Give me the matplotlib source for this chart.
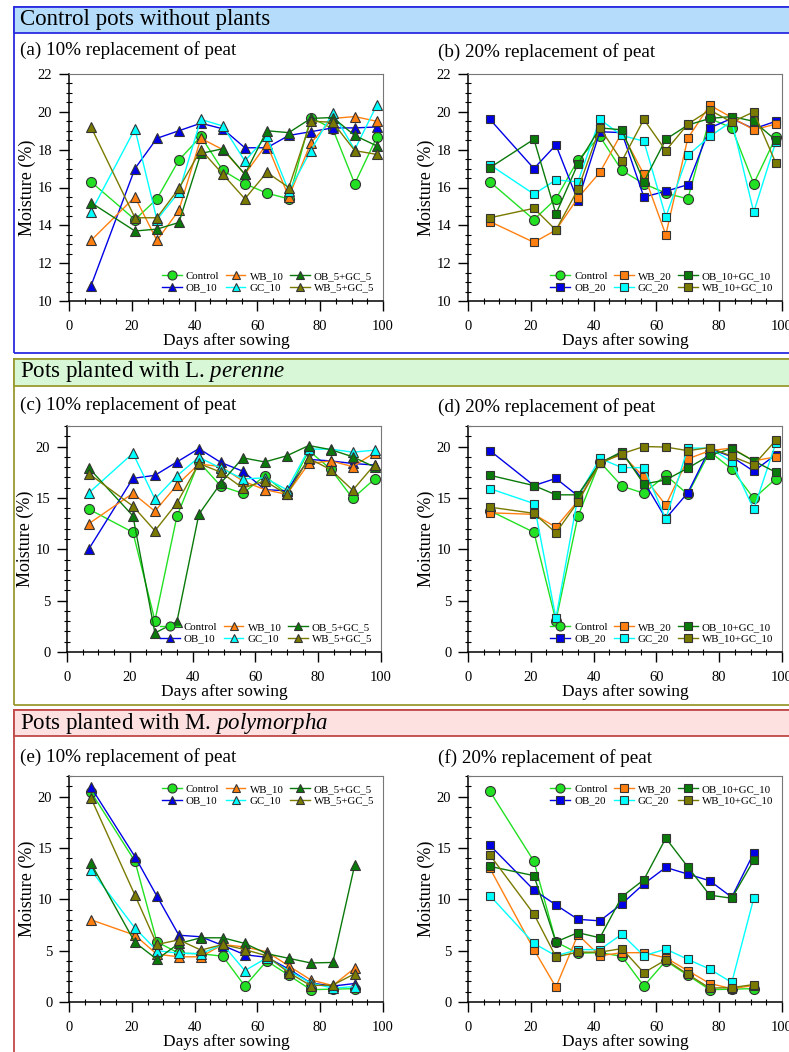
import matplotlib
matplotlib.use("Agg")
import matplotlib.pyplot as plt
from matplotlib.patches import Rectangle
from matplotlib.ticker import MultipleLocator

plt.rcParams["font.family"] = ["Liberation Serif", "DejaVu Serif"]
plt.rcParams["mathtext.fontset"] = "custom"
plt.rcParams["mathtext.rm"] = "Liberation Serif"
plt.rcParams["mathtext.it"] = "Liberation Serif:italic"

# sampling days
days = [7, 21, 28, 35, 42, 49, 56, 63, 70, 77, 84, 91, 98]
days_mp = [7, 21, 28, 35, 42, 49, 56, 63, 70, 77, 84, 91]

# (a) control pots, 10 %
a_control = [16.3, 14.3, 15.4, 17.45, 18.7, 16.9, 16.2, 15.7, 15.4, 19.7, 19.1, 16.2, 18.65]
a_ob = [10.8, 17.0, 18.6, 19.0, 19.4, 19.1, 18.1, 18.1, 18.75, 18.95, 19.15, 19.15, 19.2]
a_wb = [13.2, 15.5, 13.2, 14.8, 18.6, 18.0, 16.7, 18.3, 15.5, 18.35, 19.65, 19.75, 19.5]
a_gc = [14.7, 19.1, 14.3, 15.75, 19.6, 19.25, 17.4, 18.7, 15.8, 17.95, 19.95, 18.0, 20.35]
a_obgc = [15.2, 13.7, 13.8, 14.15, 17.8, 18.05, 16.7, 19.0, 18.9, 19.65, 19.7, 18.75, 18.2]
a_wbgc = [19.2, 14.4, 14.4, 15.95, 18.0, 16.7, 15.4, 16.8, 16.0, 19.5, 19.45, 17.95, 17.75]

# (b) control pots, 20 %
b_control = [16.3, 14.3, 15.4, 17.45, 18.7, 16.9, 16.2, 15.7, 15.4, 19.65, 19.15, 16.2, 18.65]
b_ob = [19.6, 17.0, 18.25, 15.3, 18.95, 18.9, 15.5, 15.8, 16.15, 19.15, 19.65, 19.1, 19.5]
b_wb = [14.2, 13.1, 13.75, 15.45, 16.8, 18.9, 16.7, 13.5, 18.6, 20.35, 19.7, 19.05, 19.35]
b_gc = [17.2, 15.65, 16.4, 16.3, 19.6, 18.75, 18.45, 14.45, 17.7, 18.7, 19.5, 14.7, 18.4]
b_obgc = [17.05, 18.55, 14.6, 17.25, 19.15, 19.05, 16.3, 18.55, 19.3, 19.65, 19.75, 19.5, 18.5]
b_wbgc = [14.4, 14.9, 13.75, 15.9, 19.15, 17.4, 19.6, 17.95, 19.35, 20.1, 19.45, 20.0, 17.3]

# (c) L. perenne, 10 %
c_control = [13.9, 11.65, 3.05, 13.2, 18.5, 16.15, 15.45, 17.15, 15.4, 19.6, 17.8, 14.95, 16.85]
c_ob = [10.05, 16.9, 17.2, 18.5, 19.8, 18.45, 17.6, 15.8, 15.7, 18.75, 18.6, 18.35, 18.2]
c_wb = [12.5, 15.45, 13.7, 16.25, 18.3, 18.05, 16.65, 15.8, 15.35, 18.35, 18.6, 18.05, 19.4]
c_gc = [15.5, 19.35, 14.9, 17.15, 18.95, 17.9, 16.85, 16.95, 15.8, 19.75, 19.75, 19.45, 19.65]
c_obgc = [17.9, 13.25, 1.85, 2.95, 13.4, 16.45, 18.9, 18.5, 19.1, 20.1, 19.7, 19.0, 18.0]
c_wbgc = [17.35, 14.2, 11.8, 14.5, 18.35, 17.5, 15.95, 16.65, 15.35, 18.85, 17.75, 15.75, 18.25]

# (d) L. perenne, 20 %
d_control = [13.75, 11.65, 3.05, 13.2, 18.5, 16.15, 15.45, 17.2, 15.35, 19.5, 17.8, 14.95, 16.85]
d_ob = [19.6, 16.2, 16.9, 15.2, 18.4, 19.4, 16.6, 13.0, 15.5, 19.8, 19.0, 17.6, 19.2]
d_wb = [13.55, 13.4, 12.15, 14.7, 18.5, 19.2, 17.05, 14.3, 18.8, 19.6, 19.85, 18.6, 19.0]
d_gc = [15.9, 14.45, 3.3, 15.1, 18.85, 17.95, 17.95, 12.95, 19.85, 19.85, 18.5, 13.9, 20.3]
d_obgc = [17.2, 16.2, 15.3, 15.3, 18.4, 19.5, 16.35, 16.75, 17.9, 19.15, 19.8, 18.6, 17.5]
d_wbgc = [14.1, 13.5, 11.6, 14.6, 18.35, 19.3, 20.0, 19.95, 19.6, 19.9, 19.05, 18.2, 20.6]

# (e) M. polymorpha, 10 %
e_control = [20.45, 13.7, 5.85, 4.75, 4.7, 4.45, 1.55, 4.0, 2.6, 1.2, 1.25, 1.3]
e_ob = [20.9, 14.15, 10.3, 6.5, 6.35, 5.5, 4.6, 4.35, 3.2, 1.85, 1.55, 1.8]
e_wb = [8.0, 6.5, 4.65, 4.4, 4.4, 5.6, 5.35, 4.9, 3.5, 2.15, 1.6, 3.3]
e_gc = [12.85, 7.2, 5.0, 4.75, 4.7, 5.6, 3.05, 4.3, 3.05, 1.85, 1.35, 1.5]
e_obgc = [13.5, 5.8, 4.15, 5.7, 6.25, 6.25, 5.7, 4.7, 4.25, 3.8, 3.85, 13.35]
e_wbgc = [19.85, 10.4, 5.6, 6.05, 5.05, 5.6, 5.1, 4.5, 2.85, 1.6, 1.65, 2.75]

# (f) M. polymorpha, 20 %
f_control = [20.5, 13.7, 5.85, 4.75, 4.8, 4.45, 1.55, 4.0, 2.6, 1.2, 1.25, 1.3]
f_ob = [15.25, 10.9, 9.45, 8.05, 7.9, 9.55, 11.5, 13.1, 12.45, 11.8, 10.2, 14.5]
f_wb = [13.0, 5.1, 1.45, 6.55, 4.5, 4.8, 4.8, 4.3, 3.05, 1.8, 1.3, 1.6]
f_gc = [10.35, 5.7, 4.5, 5.1, 5.1, 6.6, 4.5, 5.15, 4.15, 3.2, 1.9, 10.1]
f_obgc = [13.2, 12.3, 5.85, 6.75, 6.25, 10.25, 11.9, 15.95, 13.15, 10.4, 10.1, 13.8]
f_wbgc = [14.3, 8.55, 4.4, 4.85, 4.85, 5.2, 2.85, 4.1, 2.7, 1.35, 1.4, 1.7]

names_10 = ["Control", "OB_10", "WB_10", "GC_10", "OB_5+GC_5", "WB_5+GC_5"]
names_20 = ["Control", "OB_20", "WB_20", "GC_20", "OB_10+GC_10", "WB_10+GC_10"]
colors = ["#22e022", "#0000e6", "#ff8010", "#00ffff", "#0a7a0a", "#7a7a00"]

W, H = 789, 1052
fig = plt.figure(figsize=(W / 100, H / 100), dpi=100)


def frac_rect(x0, y0, x1, y1):
    # pixel box (top-left origin) -> figure fraction
    return [x0 / W, 1 - y1 / H, (x1 - x0) / W, (y1 - y0) / H]


def section(y0, y1, head_bottom, edge, face, title, ty):
    l, b, w, h = frac_rect(14, y0, 820, y1)
    fig.patches.append(Rectangle((l, b), w, h, transform=fig.transFigure,
                                 facecolor="none", edgecolor=edge, lw=1.3, zorder=0))
    l, b, w, h = frac_rect(14, y0, 820, head_bottom)
    fig.patches.append(Rectangle((l, b), w, h, transform=fig.transFigure,
                                 facecolor=face, edgecolor=edge, lw=1.3, zorder=0))
    fig.text(20 / W, 1 - ty / H, title, fontsize=16.5, va="center", ha="left")


section(7, 353, 33, "#2a2ae0", "#b5dcfa", "Control pots without plants", 20)
section(359, 705, 386, "#9a9a30", "#d7f7d7", r"Pots planted with L. $\it{perenne}$", 372)
section(710, 1090, 736, "#c04848", "#fde0e0", r"Pots planted with M. $\it{polymorpha}$", 723)


def panel(box, label, label_xy, xs, series, names, marker, ms, ylim, ymaj, ymin, legloc):
    ax = fig.add_axes(frac_rect(*box))
    for i, (vals, name, col) in enumerate(zip(series, names, colors)):
        if i == 0:
            ax.plot(xs, vals, color=col, lw=1.0, marker="o", ms=7.2,
                    mfc=col, mec="#333333", mew=0.8, label=name, zorder=3)
        else:
            ax.plot(xs, vals, color=col, lw=1.0, marker=marker, ms=ms,
                    mfc=col, mec="#333333", mew=0.8, label=name, zorder=3)
    ax.set_xlim(0, 100)
    ax.set_ylim(*ylim)
    ax.xaxis.set_major_locator(MultipleLocator(20))
    ax.xaxis.set_minor_locator(MultipleLocator(5))
    ax.yaxis.set_major_locator(MultipleLocator(ymaj))
    ax.yaxis.set_minor_locator(MultipleLocator(ymin))
    ax.tick_params(which="major", direction="out", length=7, width=1, labelsize=10.5)
    ax.tick_params(axis="x", which="major", pad=7)
    ax.tick_params(axis="y", which="major", pad=5)
    ax.tick_params(which="minor", direction="inout", length=4, width=0.8)
    for s in ["top", "right"]:
        ax.spines[s].set_color("#777777")
    ax.spines["left"].set_linewidth(1.1)
    ax.spines["bottom"].set_linewidth(1.1)
    ax.set_xlabel("Days after sowing", fontsize=12.5, labelpad=0)
    ax.set_ylabel("Moisture (%)", fontsize=13, labelpad=1)
    ax.legend(loc=legloc, ncol=3, frameon=False, fontsize=7.8,
              handlelength=1.8, columnspacing=0.6, labelspacing=0.15,
              handletextpad=0.4, borderaxespad=0.4, markerscale=0.9)
    fig.text(label_xy[0] / W, 1 - label_xy[1] / H, label, fontsize=13.8,
             va="center", ha="left")
    return ax


yl_a = (10, 22)
yl_c = (0, 22)

panel((69, 74, 383, 301), "(a) 10% replacement of peat", (20, 50), days,
      [a_control, a_ob, a_wb, a_gc, a_obgc, a_wbgc], names_10, "^", 6.5,
      yl_a, 2, 0.5, "lower right")
panel((468, 74, 782, 301), "(b) 20% replacement of peat", (438, 52), days,
      [b_control, b_ob, b_wb, b_gc, b_obgc, b_wbgc], names_20, "s", 6,
      yl_a, 2, 0.5, "lower right")
panel((67, 426, 381, 652), "(c) 10% replacement of peat", (20, 405), days,
      [c_control, c_ob, c_wb, c_gc, c_obgc, c_wbgc], names_10, "^", 6.5,
      yl_c, 5, 1, "lower right")
panel((468, 426, 782, 652), "(d) 20% replacement of peat", (438, 407), days,
      [d_control, d_ob, d_wb, d_gc, d_obgc, d_wbgc], names_20, "s", 6,
      yl_c, 5, 1, "lower right")
panel((69, 776, 383, 1002), "(e) 10% replacement of peat", (20, 757), days_mp,
      [e_control, e_ob, e_wb, e_gc, e_obgc, e_wbgc], names_10, "^", 6.5,
      yl_c, 5, 1, "upper right")
panel((468, 776, 782, 1002), "(f) 20% replacement of peat", (438, 758), days_mp,
      [f_control, f_ob, f_wb, f_gc, f_obgc, f_wbgc], names_20, "s", 6,
      yl_c, 5, 1, "upper right")

fig.savefig("out.png", dpi=100)
